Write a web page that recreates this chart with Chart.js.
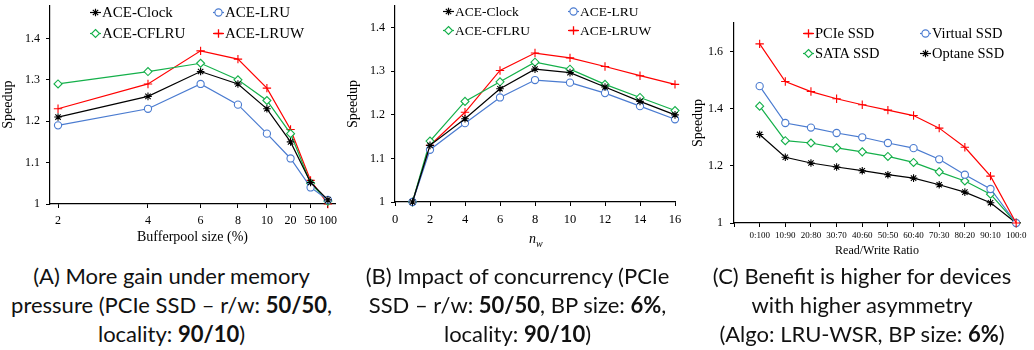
<!DOCTYPE html>
<html><head><meta charset="utf-8">
<script src="https://cdn.jsdelivr.net/npm/chart.js@4/dist/chart.umd.min.js"></script>
<style>
body{margin:0;width:1034px;height:350px;background:#fff;position:relative;overflow:hidden;}
canvas{position:absolute;top:0;}
.li{position:absolute;white-space:nowrap;display:flex;align-items:center;height:20px;font-family:"Liberation Serif",serif;color:#000;}
.li svg{display:block;margin-right:1px;}
.cap{position:absolute;text-align:center;font-family:Lato,"Open Sans",sans-serif;font-size:22px;line-height:29px;color:#111;top:261px;}
.cap b{font-weight:700;}
.nw{position:absolute;font-family:"Liberation Serif",serif;font-style:italic;font-size:14px;color:#000;}
</style></head><body>
<canvas id="cA" width="345" height="250" style="left:0"></canvas>
<canvas id="cB" width="345" height="250" style="left:345px"></canvas>
<canvas id="cC" width="344" height="262" style="left:690px"></canvas>
<div id="legA"></div><div id="legB"></div><div id="legC"></div>
<div class="nw" style="left:529px;top:231px">n<sub style="font-size:10px">w</sub></div>
<div class="cap" style="left:0;width:343px">(A) More gain under memory<br>pressure (PCIe SSD – r/w: <b>50/50</b>,<br>locality: <b>90/10</b>)</div>
<div class="cap" style="left:345px;width:345px">(B) Impact of concurrency (PCIe<br>SSD – r/w: <b>50/50</b>, BP size: <b>6%</b>,<br>locality: <b>90/10</b>)</div>
<div class="cap" style="left:690px;width:344px">(C) Benefit is higher for devices<br>with higher asymmetry<br>(Algo: LRU-WSR, BP size: <b>6%</b>)</div>
<script>
// ---------- data ----------
const aceNames = ['ACE-Clock', 'ACE-LRU', 'ACE-CFLRU', 'ACE-LRUW'];
// Panel A: bufferpool size (%)
const bpLabels = ['2', '4', '6', '8', '10', '20', '50', '100'];
const bpClock = [1.21, 1.26, 1.32, 1.29, 1.23, 1.15, 1.052, 1.01];
const bpLRU   = [1.19, 1.23, 1.29, 1.24, 1.17, 1.11, 1.04, 1.01];
const bpCFLRU = [1.29, 1.32, 1.34, 1.30, 1.25, 1.17, 1.05, 1.007];
const bpLRUW  = [1.23, 1.29, 1.37, 1.35, 1.28, 1.18, 1.057, 1.0];
const speedupTicksA = [1, 1.1, 1.2, 1.3, 1.4];
// Panel B: n_w
const nwValues = [1, 2, 4, 6, 8, 10, 12, 14, 16];
const nwClock = [1.0, 1.13, 1.191, 1.26, 1.305, 1.297, 1.264, 1.231, 1.20];
const nwLRU   = [1.0, 1.12, 1.181, 1.24, 1.28, 1.274, 1.25, 1.22, 1.19];
const nwCFLRU = [1.0, 1.14, 1.231, 1.276, 1.321, 1.305, 1.27, 1.24, 1.21];
const nwLRUW  = [1.0, 1.13, 1.206, 1.302, 1.342, 1.331, 1.311, 1.29, 1.27];
const nwTicks = [0, 2, 4, 6, 8, 10, 12, 14, 16];
const speedupTicksB = [1, 1.1, 1.2, 1.3, 1.4];
// Panel C: read/write ratio
const rwLabels = ['0:100', '10:90', '20:80', '30:70', '40:60', '50:50', '60:40', '70:30', '80:20', '90:10', '100:0'];
const devNames = ['PCIe SSD', 'Virtual SSD', 'SATA SSD', 'Optane SSD'];
const rwPCIe    = [1.627, 1.495, 1.46, 1.435, 1.414, 1.395, 1.376, 1.332, 1.265, 1.164, 1.0];
const rwVirtual = [1.479, 1.35, 1.334, 1.315, 1.30, 1.28, 1.262, 1.223, 1.169, 1.119, 1.0];
const rwSATA    = [1.409, 1.288, 1.28, 1.263, 1.249, 1.233, 1.212, 1.179, 1.147, 1.101, 1.0];
const rwOptane  = [1.31, 1.23, 1.21, 1.196, 1.183, 1.169, 1.157, 1.134, 1.108, 1.071, 1.0];
const speedupTicksC = [1, 1.2, 1.4, 1.6];

// ---------- styles ----------
const BLACK = '#000000', BLUE = '#4A7BD0', GREEN = '#14B04A', RED = '#FF0000';
const SERIF = '"Liberation Serif", "Times New Roman", serif';
const aceStyle = [
  {color: BLACK, shape: 'star', r: 3.8},
  {color: BLUE, shape: 'circle', r: 3.6},
  {color: GREEN, shape: 'rectRot', r: 4},
  {color: RED, shape: 'cross', r: 4.2}
];
const devStyle = [
  {color: RED, shape: 'cross', r: 4.2},
  {color: BLUE, shape: 'circle', r: 3.6},
  {color: GREEN, shape: 'rectRot', r: 4},
  {color: BLACK, shape: 'star', r: 3.8}
];

function ds(label, xs, ys, st) {
  return {
    label, data: ys.map((y, i) => ({x: xs[i], y})),
    borderColor: st.color, backgroundColor: '#fff', borderWidth: 1.2,
    pointStyle: st.shape, pointRadius: st.r, pointBorderColor: st.color,
    pointBackgroundColor: '#fff', pointBorderWidth: 1.1, tension: 0, clip: false
  };
}
function axisCommon() {
  return {
    grid: {display: true, drawOnChartArea: false, drawTicks: true, tickLength: 4, color: '#000', lineWidth: 1},
    border: {display: true, color: '#000', width: 1.2}
  };
}
function zeroPad(s) { s.paddingLeft = 0; s.paddingRight = 0; s.paddingTop = 0; s.paddingBottom = 0; }
function yAxis(min, max, ticks, width, pad) {
  return Object.assign(axisCommon(), {
    type: 'linear', min, max,
    afterBuildTicks: s => { s.ticks = ticks.map(v => ({value: v})); },
    ticks: {font: {family: SERIF, size: 12}, color: '#000', padding: pad, callback: v => String(v)},
    title: {display: true, text: 'Speedup', font: {family: SERIF, size: 14}, color: '#000', padding: 0},
    afterFit: s => { s.width = width; zeroPad(s); }
  });
}
function baseOpts(padding, scales) {
  return {
    responsive: false, animation: false, devicePixelRatio: 1,
    layout: {padding},
    plugins: {legend: {display: false}, tooltip: {enabled: false}},
    scales
  };
}

// Panel A
const bpX = bpLabels.map((_, i) => 2 * (i + 1));
new Chart(document.getElementById('cA'), {
  type: 'line',
  data: {datasets: [bpClock, bpLRU, bpCFLRU, bpLRUW].map((d, k) => ds(aceNames[k], bpX, d, aceStyle[k]))},
  options: baseOpts({left: 0, right: 10, top: 4, bottom: 0}, {
    x: Object.assign(axisCommon(), {
      type: 'logarithmic', min: 1.88, max: 16.9,
      afterBuildTicks: s => { s.ticks = bpX.map(v => ({value: v})); },
      ticks: {font: {family: SERIF, size: 12}, color: '#000', padding: 6, autoSkip: false, maxRotation: 0,
        callback: (v, i) => bpLabels[i]},
      title: {display: true, text: 'Bufferpool size (%)', font: {family: SERIF, size: 14}, color: '#000', padding: {top: 0, bottom: 4}},
      afterFit: s => { s.height = 46; zeroPad(s); }
    }),
    y: yAxis(1, 1.48, speedupTicksA, 50, 6)
  })
});

// Panel B
new Chart(document.getElementById('cB'), {
  type: 'line',
  data: {datasets: [nwClock, nwLRU, nwCFLRU, nwLRUW].map((d, k) => ds(aceNames[k], nwValues, d, aceStyle[k]))},
  options: baseOpts({left: 0, right: 15, top: 6, bottom: 0}, {
    x: Object.assign(axisCommon(), {
      type: 'linear', min: 0, max: 16,
      afterBuildTicks: s => { s.ticks = nwTicks.map(v => ({value: v})); },
      ticks: {font: {family: SERIF, size: 12.5}, color: '#000', padding: 6, autoSkip: false, maxRotation: 0,
        callback: v => String(v)},
      title: {display: false},
      afterFit: s => { s.height = 48; zeroPad(s); }
    }),
    y: yAxis(1, 1.45, speedupTicksB, 50, 6)
  })
});

// Panel C
const rwX = rwLabels.map((_, i) => i);
new Chart(document.getElementById('cC'), {
  type: 'line',
  data: {datasets: [rwPCIe, rwVirtual, rwSATA, rwOptane].map((d, k) => ds(devNames[k], rwX, d, devStyle[k]))},
  options: baseOpts({left: 0, right: 14, top: 23, bottom: 0}, {
    x: Object.assign(axisCommon(), {
      type: 'linear', min: -1, max: 10.15,
      afterBuildTicks: s => { s.ticks = [-1].concat(rwX).map(v => ({value: v})); },
      ticks: {font: {family: SERIF, size: 9}, color: '#000', padding: 3, autoSkip: false, maxRotation: 0,
        callback: v => (v < 0 ? '' : rwLabels[v])},
      title: {display: true, text: 'Read/Write Ratio', font: {family: SERIF, size: 12}, color: '#000', padding: {top: 0, bottom: 4}},
      afterFit: s => { s.height = 39; zeroPad(s); }
    }),
    y: yAxis(1, 1.7, speedupTicksC, 44, 7)
  })
});

// ---------- legends (HTML) ----------
function markerSVG(st) {
  const w = 11, h = 11, cx = 5.5, cy = 5.5, r = st.r, c = st.color;
  let shape = '';
  if (st.shape === 'circle') shape = `<circle cx="${cx}" cy="${cy}" r="${r}" fill="#fff" stroke="${c}" stroke-width="1.1"/>`;
  else if (st.shape === 'rectRot') shape = `<polygon points="${cx},${cy - r} ${cx + r},${cy} ${cx},${cy + r} ${cx - r},${cy}" fill="#fff" stroke="${c}" stroke-width="1.1"/>`;
  else if (st.shape === 'cross') shape = `<path d="M${cx - r} ${cy}H${cx + r}M${cx} ${cy - r}V${cy + r}" stroke="${c}" stroke-width="1.3"/>`;
  else { const d = r * 0.7071; shape = `<path d="M${cx - r} ${cy}H${cx + r}M${cx} ${cy - r}V${cy + r}M${cx - d} ${cy - d}L${cx + d} ${cy + d}M${cx - d} ${cy + d}L${cx + d} ${cy - d}" stroke="${c}" stroke-width="1.2"/>`; }
  return `<svg width="${w}" height="${h}" viewBox="0 0 ${w} ${h}"><path d="M0 ${cy}H${w}" stroke="${c}" stroke-width="1.2"/>${shape}</svg>`;
}
function buildLegend(id, names, styles, cfg) {
  const el = document.getElementById(id);
  let html = '';
  names.forEach((n, i) => {
    const col = i % 2, row = Math.floor(i / 2);
    const left = cfg.x[col], top = cfg.y[row] - 10;
    html += `<div class="li" style="left:${left}px;top:${top}px;font-size:${cfg.size}px">${markerSVG(styles[i])}<span>${n}</span></div>`;
  });
  el.innerHTML = html;
}
buildLegend('legA', aceNames, aceStyle, {x: [90, 213], y: [12.5, 33.5], size: 15});
buildLegend('legB', aceNames, aceStyle, {x: [443, 568], y: [11.5, 30.5], size: 13.5});
buildLegend('legC', devNames, devStyle, {x: [803, 920], y: [33.5, 53.5], size: 14.5});
</script>
</body></html>
